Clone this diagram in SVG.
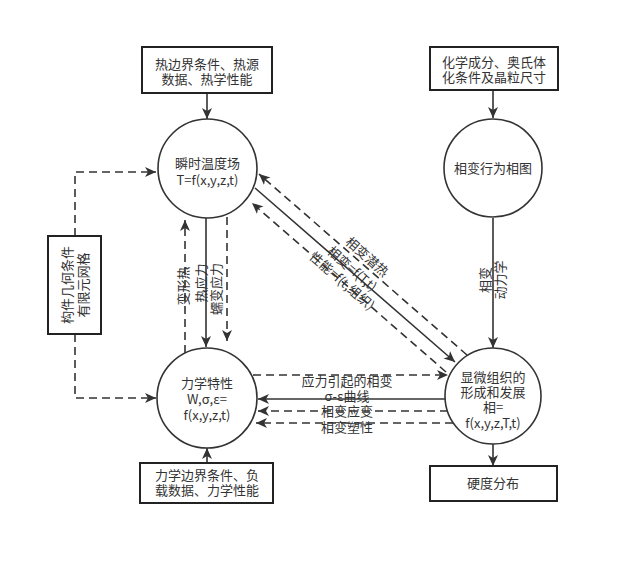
<svg xmlns="http://www.w3.org/2000/svg" width="620" height="566" viewBox="0 0 620 566">
<defs>
<marker id="arr" markerUnits="userSpaceOnUse" markerWidth="12" markerHeight="10" refX="11" refY="5" orient="auto">
<path d="M0,0 L11,5 L0,10 L3,5 z" fill="#333" stroke="none"/>
</marker>
<style>
text{font-family:"Noto Sans CJK SC","Noto Sans",sans-serif;font-size:13px;fill:#333;text-anchor:middle}
.node{fill:#fff;stroke:#333;stroke-width:1.6}
.box{fill:#fff;stroke:#222;stroke-width:2}
.e{fill:none;stroke:#333;stroke-width:1.6;marker-end:url(#arr)}
.d{stroke-dasharray:8 5}
</style>
</defs>
<rect width="620" height="566" fill="#fff"/>
<g id="connectors">
<path class="e" d="M207,93 V119"/>
<path class="e" d="M493,90 V118"/>
<path class="e d" d="M75,236 V172 H156"/>
<path class="e d" d="M75,334 V398 H156"/>
<path class="e" d="M206,218 V347"/>
<path class="e d" d="M185,353 V220"/>
<path class="e d" d="M227,217 V341"/>
<path class="e d" d="M467,355 L259,174"/>
<path class="e" d="M255,188 L455,362"/>
<path class="e d" d="M446,372 L252,203"/>
<path class="e d" d="M253,375 H448"/>
<path class="e" d="M445,399 H258"/>
<path class="e d" d="M448,411 H258"/>
<path class="e d" d="M453,423 H256"/>
<path class="e" d="M493,218 V348"/>
<path class="e" d="M207,463 V448"/>
<path class="e" d="M493,444 V466"/>
</g>
<g id="edge-labels">
<text transform="translate(183,286) rotate(-90)" y="4.5">变形热</text>
<text transform="translate(201,283) rotate(-90)" y="4.5">热应力</text>
<text transform="translate(216,289) rotate(-90)" y="4.5">蠕变应力</text>
<text transform="translate(367,257) rotate(41)" y="4.5">相变潜热</text>
<text transform="translate(352,269) rotate(41)" y="4.5">相变=f(T,t)</text>
<text transform="translate(342,281) rotate(41)" y="4.5">性能=f(t,组织)</text>
<text x="347" y="386">应力引起的相变</text>
<text x="347" y="401">σ-ε曲线</text>
<text x="347" y="416">相变应变</text>
<text x="347" y="432">相变塑性</text>
<text transform="translate(485,280) rotate(-90)" y="4.5">相变</text>
<text transform="translate(500,280) rotate(-90)" y="4.5">动力学</text>
</g>
<g id="box-thermal">
<rect class="box" x="142" y="47" width="130" height="46"/>
<text x="207" y="69">热边界条件、热源</text>
<text x="207" y="84">数据、热学性能</text>
</g>
<g id="box-chem">
<rect class="box" x="430" y="47" width="128" height="43"/>
<text x="494" y="67">化学成分、奥氏体</text>
<text x="494" y="82">化条件及晶粒尺寸</text>
</g>
<g id="box-geom">
<rect class="box" x="48" y="236" width="53" height="98"/>
<text transform="translate(67,285) rotate(-90)" y="4.5">构件几何条件</text>
<text transform="translate(83,285) rotate(-90)" y="4.5">有限元网格</text>
</g>
<g id="box-mech">
<rect class="box" x="140" y="463" width="133" height="40"/>
<text x="207" y="480">力学边界条件、负</text>
<text x="207" y="495">载数据、力学性能</text>
</g>
<g id="box-hard">
<rect class="box" x="430" y="466" width="127" height="35"/>
<text x="493" y="488">硬度分布</text>
</g>
<g id="node-temp">
<circle class="node" cx="207.5" cy="168.5" r="49.5"/>
<text x="207.5" y="167.5">瞬时温度场</text>
<text x="207.5" y="184.5">T=f(x,y,z,t)</text>
</g>
<g id="node-mech">
<circle class="node" cx="207" cy="398" r="50"/>
<text x="207" y="387.5">力学特性</text>
<text x="207" y="403.5">W,σ,ε=</text>
<text x="207" y="420">f(x,y,z,t)</text>
</g>
<g id="node-phase">
<circle class="node" cx="493" cy="168" r="49"/>
<text x="493" y="173">相变行为相图</text>
</g>
<g id="node-micro">
<circle class="node" cx="493" cy="396" r="48"/>
<text x="493" y="381.5">显微组织的</text>
<text x="493" y="396.5">形成和发展</text>
<text x="493" y="411.5">相=</text>
<text x="493" y="427.5">f(x,y,z,T,t)</text>
</g>
</svg>
